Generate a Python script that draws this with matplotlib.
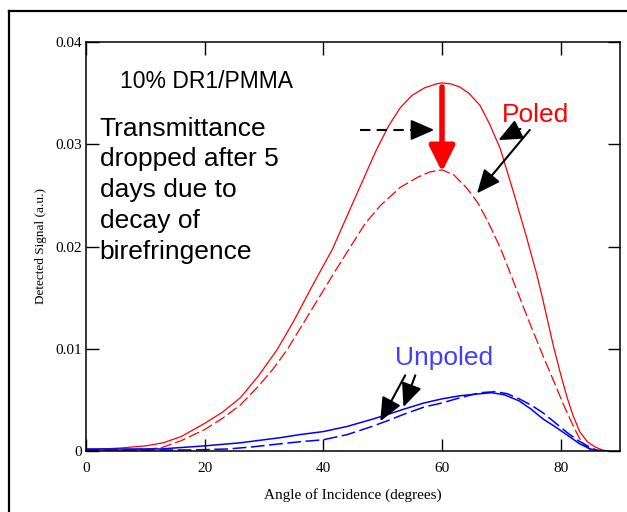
import numpy as np
import matplotlib
matplotlib.use("Agg")
import matplotlib.pyplot as plt
from matplotlib.lines import Line2D

# data (angle in degrees, signal in a.u.)
poled_before_x = [0, 3, 6, 10, 13, 16, 20, 23, 26, 29, 32.2, 35, 38, 41.5, 45, 48.9, 51, 53,
                  55, 57, 59, 60, 61.5, 63, 64.5, 66.4, 68, 69.8, 72, 74.3,
                  76, 77, 78.8, 80, 81.1, 82, 83.2, 84.5, 85.8, 87, 88]
poled_before_y = [0.0001, 0.0002, 0.0003, 0.0005, 0.0008, 0.0014, 0.0027, 0.0038, 0.0052,
                  0.0073, 0.0099, 0.0127, 0.0160, 0.0197, 0.0243, 0.0294, 0.0318, 0.0336,
                  0.0348, 0.0355, 0.0359, 0.0360, 0.0359,
                  0.0356, 0.0350, 0.0338, 0.0320, 0.0296, 0.0254, 0.0208,
                  0.0172, 0.0148, 0.0102, 0.0075, 0.0052, 0.0036, 0.0019, 0.0009, 0.0004, 0.0001, 0.0]

poled_after_x = [0, 4, 8, 12.6, 16, 20, 23, 26, 29, 31.5, 33.9, 36, 38, 40, 42, 44.6, 47,
                 49.6, 53, 56, 58, 60, 62, 64.2, 66, 67.6, 69.8, 71.5, 73.1, 75, 77.1, 79,
                 80.5, 82, 83.2, 84.2, 85, 86]
poled_after_y = [0.0, 0.0, 0.0001, 0.0003, 0.0010, 0.0021, 0.0032, 0.0045, 0.0063, 0.0080,
                 0.0099, 0.0119, 0.0138, 0.0157, 0.0176, 0.0200, 0.0222,
                 0.0240, 0.0258, 0.0268, 0.0273, 0.0275, 0.0270, 0.0257, 0.0243, 0.0226, 0.0199, 0.0174,
                 0.0150, 0.0122, 0.0092, 0.0066, 0.0045, 0.0026, 0.0012, 0.0005, 0.0001, 0.0]

unpoled_before_x = [0, 6, 12.6, 20, 26, 32.7, 36, 40, 44, 48.2, 51, 53.6, 57, 60, 63, 66.4,
                    68.4, 70.5, 73, 75, 77.1, 79, 80, 81.5, 83.2, 85, 86.5, 88]
unpoled_before_y = [0.0002, 0.0002, 0.0002, 0.0005, 0.0008, 0.0013, 0.0016, 0.0019, 0.0024,
                    0.0031, 0.0036, 0.0041, 0.0047, 0.0051, 0.0054, 0.0056,
                    0.0057, 0.0055, 0.0049, 0.0041, 0.0031, 0.0024, 0.0020, 0.0014, 0.0007, 0.0002, 0.0, 0.0]

unpoled_after_x = [0, 10, 18, 24, 28, 32.7, 36, 40, 44, 48.2, 51, 53.6, 57, 60, 63, 66.4,
                   69, 71, 73, 75, 77.1, 79, 81.1, 83, 84.5, 86, 87.5]
unpoled_after_y = [0.0001, 0.0001, 0.0001, 0.0002, 0.0004, 0.0007, 0.0009, 0.0011, 0.0016,
                   0.0024, 0.0030, 0.0036, 0.0043, 0.0047, 0.0052, 0.0057,
                   0.0058, 0.0056, 0.0051, 0.0045, 0.0037, 0.0028, 0.0018, 0.0010, 0.0005, 0.0001, 0.0]

x_ticks = [0, 20, 40, 60, 80]
y_ticks = [0, 0.01, 0.02, 0.03, 0.04]
y_ticklabels = ["0", "0.01", "0.02", "0.03", "0.04"]

serif = "Liberation Serif"
sans = "Liberation Sans"

fig = plt.figure(figsize=(6.27, 5.12), dpi=100)
ax = fig.add_axes([86 / 627, 61 / 512, 534 / 627, 409 / 512])

# outer frame of the original slide (only top and left visible)
fig.add_artist(Line2D([9 / 627, 9 / 627], [0, 1 - 11 / 512], color="black", lw=1.6,
                      transform=fig.transFigure))
fig.add_artist(Line2D([9 / 627, 1], [1 - 11 / 512, 1 - 11 / 512], color="black", lw=1.6,
                      transform=fig.transFigure))

ax.plot(poled_before_x, poled_before_y, color="red", lw=0.9)
ax.plot(poled_after_x, poled_after_y, color="red", lw=0.9, dashes=(9, 3))
ax.plot(unpoled_before_x, unpoled_before_y, color="blue", lw=1.1)
ax.plot(unpoled_after_x, unpoled_after_y, color="blue", lw=1.1, dashes=(9, 3))

ax.set_xlim(0, 90)
ax.set_ylim(0, 0.04)
ax.set_xticks(x_ticks)
ax.set_xticklabels([str(t) for t in x_ticks], fontfamily=serif, fontsize=11)
ax.set_yticks(y_ticks)
ax.set_yticklabels(y_ticklabels, fontfamily=serif, fontsize=11)
ax.tick_params(direction="in", length=9, width=1.0, top=True, right=True, pad=3)
ax.tick_params(axis="x", pad=8)
for s in ax.spines.values():
    s.set_linewidth(1.1)

ax.set_xlabel("Angle of Incidence (degrees)", fontfamily=serif, fontsize=11, labelpad=9)
ax.set_ylabel("Detected Signal (a.u.)", fontfamily=serif, fontsize=9.5, labelpad=6)

# annotations
ax.text(5.7, 0.0355, "10% DR1/PMMA", fontfamily=sans, fontsize=16.5, va="baseline")
ax.text(2.3, 0.0327, "Transmittance\ndropped after 5\ndays due to\ndecay of\nbirefringence",
        fontfamily=sans, fontsize=19, va="top", ha="left", linespacing=1.36)
ax.text(75.8, 0.0322, "Poled", fontfamily=sans, fontsize=19, color="red", ha="center",
        va="baseline")
ax.text(52.0, 0.0084, "Unpoled", fontfamily=sans, fontsize=19, color="#4040ff", ha="left",
        va="baseline")

# red drop arrow
ax.annotate("", xy=(60, 0.0273), xytext=(60, 0.0356),
            arrowprops=dict(arrowstyle="-|>,head_length=0.7,head_width=0.35", lw=4,
                            color="red", mutation_scale=22, shrinkA=0, shrinkB=0))
# dashed black arrow
ax.plot([46.1, 56.5], [0.0314, 0.0314], color="black", lw=1.5, dashes=(5, 3))
ax.annotate("", xy=(58.7, 0.0314), xytext=(56.0, 0.0314),
            arrowprops=dict(arrowstyle="-|>,head_length=0.8,head_width=0.35", lw=1.5,
                            color="black", mutation_scale=18, shrinkA=0, shrinkB=0))
# arrows pointing to curves
arrow_kw = dict(arrowstyle="-|>,head_length=0.8,head_width=0.35", lw=1.5, color="black",
                mutation_scale=18, shrinkA=0, shrinkB=0)
ax.annotate("", xy=(69.5, 0.0304), xytext=(73.2, 0.0315), arrowprops=arrow_kw)
ax.annotate("", xy=(65.9, 0.0252), xytext=(74.8, 0.0314), arrowprops=arrow_kw)
ax.annotate("", xy=(49.6, 0.0029), xytext=(53.8, 0.0074), arrowprops=arrow_kw)
ax.annotate("", xy=(53.5, 0.0043), xytext=(55.5, 0.0074), arrowprops=arrow_kw)

fig.savefig("out.png", dpi=100)
